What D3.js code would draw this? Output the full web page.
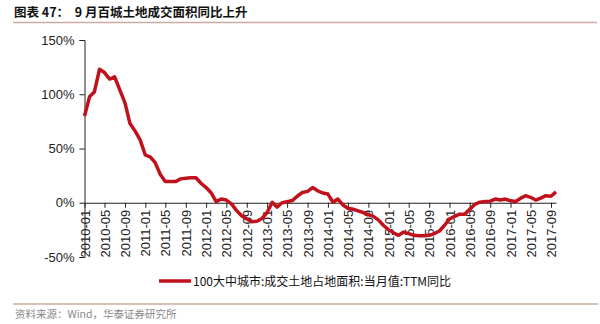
<!DOCTYPE html>
<html><head><meta charset="utf-8">
<script src="https://cdn.jsdelivr.net/npm/d3@7"></script>
<style>body{margin:0;background:#fff}svg{display:block}</style>
</head><body><svg id="c" width="600" height="324"></svg>
<script>
const title = "图表 47：  9 月百城土地成交面积同比上升";
const seriesName = "100大中城市:成交土地占地面积:当月值:TTM同比";
const source = "资料来源：Wind，华泰证券研究所";
const startMonth = "2010-01";
const values = [80,98,102,123,120,114,116,104,92,73,66,58,44,42,37,26,19.5,19.5,19.5,22,22.5,23,23,18,
  14,9,1,3.5,2.5,-1,-7,-12,-15,-17.5,-17,-14.5,-9,0.5,-4,0,1,2,6,9.5,10.5,14,11,9,
  8,0.5,3.5,-2,-5,-6,-7.5,-9,-11,-12.5,-16,-21,-25,-28,-30,-27,-28.5,-30,-30.5,-30.5,-30,-28.5,
  -26,-21,-15,-12.5,-10.5,-10.5,-6,-1.5,0.5,1.2,1.5,3.4,2.5,3.4,1.8,1.2,4,6.5,5,2.5,4.3,6.5,6,10];
const yTicks = [-50,0,50,100,150];
const xTickLabels = ["2010-01","2010-05","2010-09","2011-01","2011-05","2011-09","2012-01","2012-05","2012-09",
  "2013-01","2013-05","2013-09","2014-01","2014-05","2014-09","2015-01","2015-05","2015-09","2016-01","2016-05",
  "2016-09","2017-01","2017-05","2017-09"];

const parse = d3.timeParse("%Y-%m");
const fmt = d3.timeFormat("%Y-%m");
const t0 = parse(startMonth);
const data = values.map((v,i)=>({date:d3.timeMonth.offset(t0,i), v}));

const svg = d3.select("#c");
const x = d3.scaleTime().domain([data[0].date, data[data.length-1].date]).range([84.5, 556]);
const y = d3.scaleLinear().domain([-50,150]).range([257,40]);

// title
svg.append("text").attr("x",14).attr("y",17).text(title).attr("xml:space","preserve").style("white-space","pre")
  .attr("font-family","'Noto Sans CJK SC',sans-serif").attr("font-weight","bold").attr("font-size",12.5).attr("fill","#111");
svg.append("line").attr("x1",13).attr("x2",597).attr("y1",22.5).attr("y2",22.5).attr("stroke","#c9aca2").attr("stroke-width",1.5);

// y axis
const ya = svg.append("g").attr("transform","translate(84.5,0)")
  .call(d3.axisLeft(y).tickValues(yTicks).tickSize(5).tickFormat(d=>d+"%"));
ya.selectAll("text").attr("font-family","'Liberation Sans',Arial,sans-serif").attr("font-size",13).attr("fill","#222").attr("dx","-2");
ya.select(".domain").attr("stroke","#222");
ya.selectAll(".tick line").attr("stroke","#222");

// x axis at 0
const xa = svg.append("g").attr("transform",`translate(0,${y(0)})`)
  .call(d3.axisBottom(x).tickValues(xTickLabels.map(parse)).tickSize(5).tickSizeOuter(0).tickFormat(fmt));
xa.select(".domain").attr("stroke","#222");
xa.selectAll(".tick line").attr("stroke","#222");
xa.selectAll("text").attr("font-family","'Liberation Sans',Arial,sans-serif").attr("font-size",13).attr("fill","#222")
  .attr("transform","rotate(-90)").attr("text-anchor","end").attr("x",-7).attr("y",0).attr("dy","0.35em");

// line
svg.append("path").datum(data)
  .attr("d", d3.line().x(d=>x(d.date)).y(d=>y(d.v)))
  .attr("fill","none").attr("stroke","#c0121c").attr("stroke-width",3.5).attr("stroke-linejoin","round");

// legend
svg.append("line").attr("x1",159).attr("x2",191).attr("y1",281).attr("y2",281).attr("stroke","#c0121c").attr("stroke-width",3.5);
svg.append("text").attr("x",193).attr("y",285.5).text(seriesName)
  .attr("font-family","'Noto Sans CJK SC',sans-serif").attr("font-size",12).attr("fill","#111");

// bottom
svg.append("line").attr("x1",13).attr("x2",598).attr("y1",304).attr("y2",304).attr("stroke","#c9aca2").attr("stroke-width",1.5);
svg.append("text").attr("x",15).attr("y",318).text(source)
  .attr("font-family","'Noto Sans CJK SC',sans-serif").attr("font-size",10.5).attr("fill","#888");
</script></body></html>
